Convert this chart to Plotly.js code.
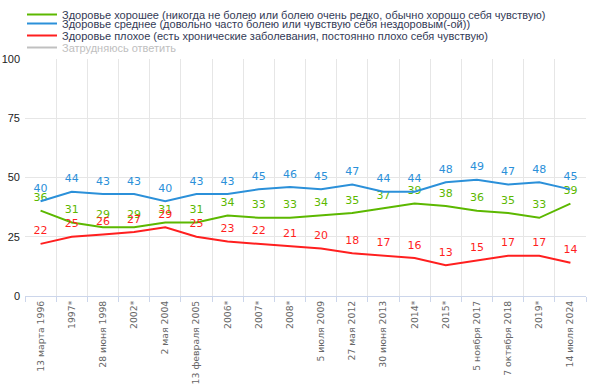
<!DOCTYPE html>
<html><head><meta charset="utf-8">
<script src="https://cdn.plot.ly/plotly-3.0.1.min.js"></script>
<style>html,body{margin:0;padding:0;background:#fff}#c{width:590px;height:388px}</style>
</head><body><div id="c"></div>
<script>
const categories = ["13 марта 1996","1997*","28 июня 1998","2002*","2 мая 2004","13 февраля 2005","2006*","2007*","2008*","5 июля 2009","27 мая 2012","30 июня 2013","2014*","2015*","5 ноября 2017","7 октября 2018","2019*","14 июля 2024"];
const good   = [36,31,29,29,31,31,34,33,33,34,35,37,39,38,36,35,33,39];
const medium = [40,44,43,43,40,43,43,45,46,45,47,44,44,48,49,47,48,45];
const bad    = [22,25,26,27,29,25,23,22,21,20,18,17,16,13,15,17,17,14];
const names = [
  "Здоровье хорошее (никогда не болею или болею очень редко, обычно хорошо себя чувствую)",
  "Здоровье среднее (довольно часто болею или чувствую себя нездоровым(-ой))",
  "Здоровье плохое (есть хронические заболевания, постоянно плохо себя чувствую)",
  "Затрудняюсь ответить"
];
const colors = ["#5cb800","#2b90d9","#ff1f1f","#c0c0c0"];
const series = [good, medium, bad];
const legendIds = ["legend","legend2","legend3","legend4"];

const traces = series.map((s,i)=>({
  x: categories, y: s, type:"scatter", mode:"lines+markers+text",
  name: names[i], text: s.map(String), textposition:"top center",
  textfont:{family:"DejaVu Sans, Verdana, sans-serif", size:11, color:colors[i]},
  marker:{size:9, color:"rgba(0,0,0,0)"},
  line:{color:colors[i], width:2}, hoverinfo:"skip", cliponaxis:false,
  legend: legendIds[i]
}));
traces.push({x:[categories[0]], y:[null], type:"scatter", mode:"lines",
  name:'<span style="color:#c0c0c0">'+names[3]+'</span>', line:{color:colors[3], width:2},
  legend: legendIds[3]});

const layout = {
  width:590, height:388,
  margin:{l:25, r:4, t:59, b:92, autoexpand:false},
  paper_bgcolor:"#fff", plot_bgcolor:"#fff",
  showlegend:true,
  xaxis:{type:"category", tickson:"boundaries", showgrid:true, gridcolor:"#e6e6e6",
    tickangle:-90, ticks:"outside", ticklen:5, tickcolor:"#ccd6eb",
    showline:true, linecolor:"#ccd6eb", linewidth:1,
    tickfont:{family:"DejaVu Sans, Verdana, sans-serif", size:9.3, color:"#666"},
    range:[-0.5, categories.length-0.5], fixedrange:true},
  yaxis:{range:[0,100], tickvals:[0,25,50,75,100], showgrid:true, gridcolor:"#e6e6e6",
    zeroline:false, showline:false, ticks:"", ticklabelstandoff:4,
    tickfont:{family:"Liberation Sans, Arial, sans-serif", size:11, color:"#222"}, fixedrange:true}
};
legendIds.forEach((id,i)=>{
  layout[id] = {xref:"container", yref:"container", x:22/590, y:1-(-3+12*i)/388,
    xanchor:"left", yanchor:"top", orientation:"v", borderwidth:0,
    font:{family:"Liberation Sans, Arial, sans-serif", size:11, color:"#333a56"},
    bgcolor:"rgba(0,0,0,0)"};
});
Plotly.newPlot("c", traces, layout, {displayModeBar:false, staticPlot:true});
</script></body></html>
